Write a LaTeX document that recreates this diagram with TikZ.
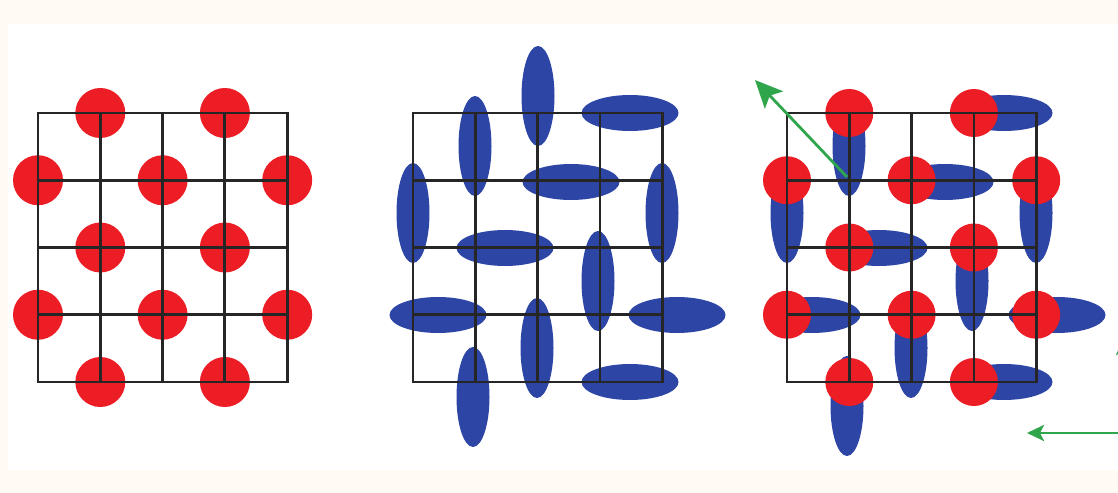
\documentclass[tikz,border=0pt]{standalone}
\usetikzlibrary{arrows.meta}
\definecolor{atomred}{HTML}{EC1D25}
\definecolor{lobeblue}{HTML}{2D45A5}
\definecolor{axisgreen}{HTML}{2FA54C}
\definecolor{pagecream}{HTML}{FFFBF3}

\begin{document}
\begin{tikzpicture}[
  x=0.02cm, y=-0.02cm,
  >=Stealth,
  lattice/.style={draw=black!85, line width=1.6pt, line cap=rect},
  atom/.style={fill=atomred},
  lobe/.style={fill=lobeblue},
  axis/.style={draw=axisgreen, line width=1.6pt}
]
  % page
  \useasboundingbox (0,0) rectangle (1118,493);
  \fill[pagecream] (0,0) rectangle (1118,493);
  \fill[white] (8,24) rectangle (1118,470);

  % blue lobes, middle and right panels
  \foreach \x/\y in {475/146, 538/96, 413/213, 662/213, 598/281, 537/348, 473/397,
                     849/146, 787/213, 1036/213, 972/281, 911/348, 847/406}
    \fill[lobe] (\x,\y) ellipse [x radius=0.33cm, y radius=1cm];
  \foreach \x/\y in {630/113, 571/182, 505/248, 438/315, 677/315, 630/382,
                     1004/113, 945/182, 879/248, 812/315, 1057/315, 1004/382}
    \fill[lobe] (\x,\y) ellipse [x radius=0.97cm, y radius=0.36cm];

  % red atoms, left and right panels
  \foreach \ox/\r in {38/0.5, 787/0.48}
    \foreach \i/\j in {1/0, 3/0, 0/1, 2/1, 4/1, 1/2, 3/2, 0/3, 2/3, 4/3, 1/4, 3/4}
      \fill[atom] (\ox+62.3*\i,113+67.25*\j) circle [radius=\r cm];

  % square lattices
  \foreach \ox in {38, 413, 787}
    \foreach \k in {0,...,4}{
      \draw[lattice] (\ox+62.3*\k,113) -- (\ox+62.3*\k,382);
      \draw[lattice] (\ox,113+67.25*\k) -- (\ox+249.2,113+67.25*\k);
    }

  % green arrows
  \coordinate (diagtail) at (847,177);
  \coordinate (diaghead) at (755,80);
  \coordinate (corner) at (1124,433);
  \coordinate (lefthead) at (1027,433);
  \coordinate (uphead) at (1124,338);
  \draw[axis, -{Stealth[length=0.55cm, width=0.5cm, inset=0.12cm]}] (diagtail) -- (diaghead);
  \draw[axis, {Stealth[length=0.34cm, width=0.32cm, inset=0.08cm]}-{Stealth[length=0.34cm, width=0.32cm, inset=0.08cm]}]
    (lefthead) -- (corner) -- (uphead);
\end{tikzpicture}
\end{document}
